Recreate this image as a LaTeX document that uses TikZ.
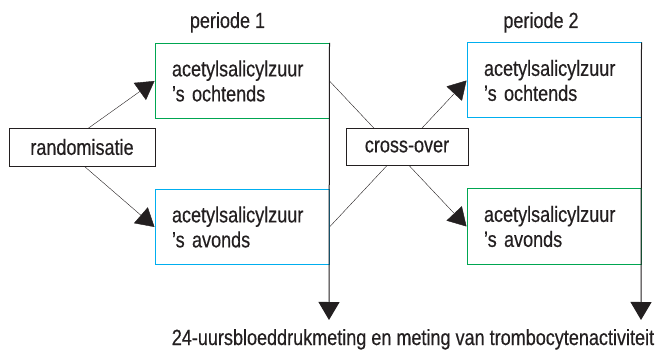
\documentclass[tikz,border=0pt]{standalone}
\usepackage{fontspec}
\setmainfont{Liberation Sans}[FakeStretch=0.82,FakeBold=0.4]
\usetikzlibrary{arrows.meta,backgrounds}
\definecolor{boxgreen}{RGB}{0,166,81}
\definecolor{boxblue}{RGB}{0,174,239}
\definecolor{ink}{RGB}{35,31,32}
\begin{document}
\begin{tikzpicture}[x=1pt,y=-1pt,
  font=\fontsize{22}{25}\selectfont,
  text=ink,
  line width=1pt,
  drugbox/.style={draw, fill=white, rectangle, inner sep=0pt, align=left,
    text width=140pt, minimum width=174pt, minimum height=75pt, line width=1pt},
  smallbox/.style={draw=ink, fill=white, rectangle, inner sep=0pt, line width=0.9pt},
  plain/.style={inner sep=0pt},
  arr/.style={draw=ink, -{Triangle[length=18pt,width=21pt]}},
]
\useasboundingbox (0,0) rectangle (660,355);

\node[plain, anchor=base] (per1) at (227.5,28) {periode 1};
\node[plain, anchor=base] (per2) at (541,28) {periode 2};

\node[drugbox, draw=boxgreen] (p1t) at (242,81) {acetylsalicylzuur\\’s ochtends};
\node[drugbox, draw=boxblue] (p1b) at (242,227) {acetylsalicylzuur\\’s avonds};
\node[drugbox, draw=boxblue] (p2t) at (554,80.5) {acetylsalicylzuur\\’s ochtends};
\node[drugbox, draw=boxgreen] (p2b) at (554,226.5) {acetylsalicylzuur\\’s avonds};

\node[smallbox, minimum width=146pt, minimum height=38pt] (rand) at (82,147) {randomisatie};
\node[smallbox, minimum width=122pt, minimum height=37pt] (cross) at (407,146.5) {cross-over};

\coordinate (rc) at (62,147);
\coordinate (e1) at (329,320);
\coordinate (e2) at (641,320);

\begin{scope}[on background layer]
  \draw[arr] (rc) -- (p1t.west);
  \draw[arr] (rc) -- (p1b.west);
  \draw[arr] (p1t.east) -- (p2b.west);
  \draw[arr] (p1b.east) -- (p2t.west);
\end{scope}

\draw[arr] (p1t.north east) -- (e1);
\draw[arr] (p2t.north east) -- (e2);

\node[plain, anchor=base] (meas) at (413,345) {24-uursbloeddrukmeting en meting van trombocytenactiviteit};
\end{tikzpicture}
\end{document}
